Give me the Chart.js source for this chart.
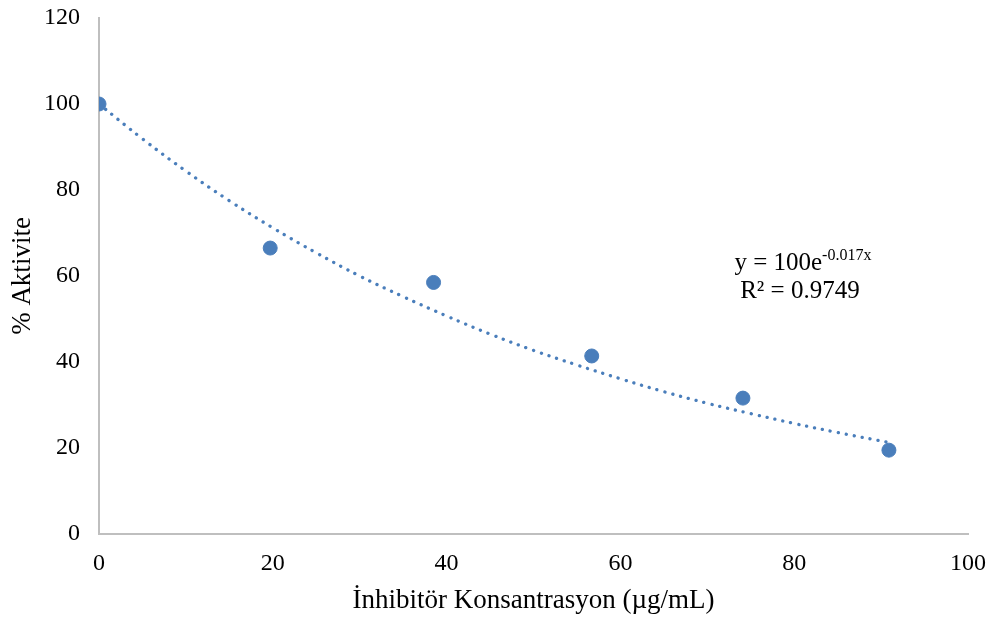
<!DOCTYPE html>
<html>
<head>
<meta charset="utf-8">
<script src="https://cdn.jsdelivr.net/npm/chart.js@4"></script>
<style>
  html, body { margin: 0; padding: 0; background: #fff; }
  #wrap { width: 991px; height: 617px; }
</style>
</head>
<body>
<div id="wrap"><canvas id="actChart" width="991" height="617"></canvas></div>
<script>
// measured points
const concX = [0, 19.7, 38.5, 56.7, 74.1, 90.9];
const activity = [100, 66.5, 58.5, 41.4, 31.6, 19.5];

// dotted trendline
const trendX = [0, 5, 10, 15, 20, 25, 30, 35, 40, 45, 50, 55, 60, 65, 70, 75, 80, 85, 90.9];
const trendY = [100, 91.9, 84.4, 77.5, 71.2, 65.4, 60.0, 55.2, 50.7, 46.5, 42.7, 39.3, 36.1, 33.1, 30.4, 28.0, 25.7, 23.6, 21.3];

const xTicks = [0, 20, 40, 60, 80, 100];
const yTicks = [0, 20, 40, 60, 80, 100, 120];

const blue = '#4a7ebb';
const axisGrey = '#bfbfbf';
const serif = '"Liberation Serif", "Times New Roman", serif';

const toPts = (xs, ys) => xs.map((x, i) => ({ x: x, y: ys[i] }));

// equation label drawn next to the curve
const eqLabel = {
  id: 'eqLabel',
  afterDraw(chart) {
    const ctx = chart.ctx;
    const xs = chart.scales.x, ys = chart.scales.y;
    const cx = xs.getPixelForValue(81.0);
    const y1 = ys.getPixelForValue(61.3);
    const y2 = ys.getPixelForValue(55.0);
    ctx.save();
    ctx.fillStyle = '#000';
    ctx.textBaseline = 'alphabetic';
    ctx.font = '25px ' + serif;
    const base = 'y = 100e';
    const sup = '-0.017x';
    const wBase = ctx.measureText(base).width;
    ctx.font = '16px ' + serif;
    const wSup = ctx.measureText(sup).width;
    let left = cx - (wBase + wSup) / 2;
    ctx.font = '25px ' + serif;
    ctx.textAlign = 'left';
    ctx.fillText(base, left, y1);
    ctx.font = '16px ' + serif;
    ctx.fillText(sup, left + wBase, y1 - 10);
    ctx.font = '25px ' + serif;
    ctx.textAlign = 'center';
    ctx.fillText('R\u00b2 = 0.9749', cx - 3, y2);
    ctx.restore();
  }
};

new Chart(document.getElementById('actChart'), {
  type: 'scatter',
  data: {
    datasets: [
      {
        label: 'trend',
        type: 'line',
        data: toPts(trendX, trendY),
        borderColor: blue,
        borderWidth: 3.3,
        borderDash: [0.1, 8],
        borderCapStyle: 'round',
        pointRadius: 0,
        tension: 0.4,
        fill: false,
        order: 2
      },
      {
        label: 'activity',
        data: toPts(concX, activity),
        backgroundColor: blue,
        borderColor: blue,
        pointRadius: 7,
        pointHoverRadius: 7,
        order: 1
      }
    ]
  },
  options: {
    responsive: false,
    animation: false,
    layout: { padding: { left: 0, right: 23, top: 18, bottom: 0 } },
    plugins: {
      legend: { display: false },
      tooltip: { enabled: false }
    },
    scales: {
      x: {
        type: 'linear',
        min: 0,
        max: 100,
        afterBuildTicks: (s) => { s.ticks = xTicks.map(v => ({ value: v })); },
        afterFit: (s) => { s.height = 83; s.paddingLeft = 0; s.paddingRight = 0; },
        grid: { display: false, drawTicks: false },
        border: { color: axisGrey, width: 2 },
        ticks: { color: '#000', font: { family: serif, size: 24 }, padding: 15, maxRotation: 0 },
        title: {
          display: true,
          text: 'İnhibitör Konsantrasyon (µg/mL)',
          color: '#000',
          font: { family: serif, size: 27 },
          padding: { top: 6, bottom: 0 }
        }
      },
      y: {
        min: 0,
        max: 120,
        afterBuildTicks: (s) => { s.ticks = yTicks.map(v => ({ value: v })); },
        afterFit: (s) => { s.width = 99; s.paddingTop = 0; s.paddingBottom = 0; },
        grid: { display: false, drawTicks: false },
        border: { color: axisGrey, width: 2 },
        ticks: { color: '#000', font: { family: serif, size: 24 }, padding: 19 },
        title: {
          display: true,
          text: '% Aktivite',
          color: '#000',
          font: { family: serif, size: 27 },
          padding: { top: 7, bottom: 0 }
        }
      }
    }
  },
  plugins: [eqLabel]
});
</script>
</body>
</html>
